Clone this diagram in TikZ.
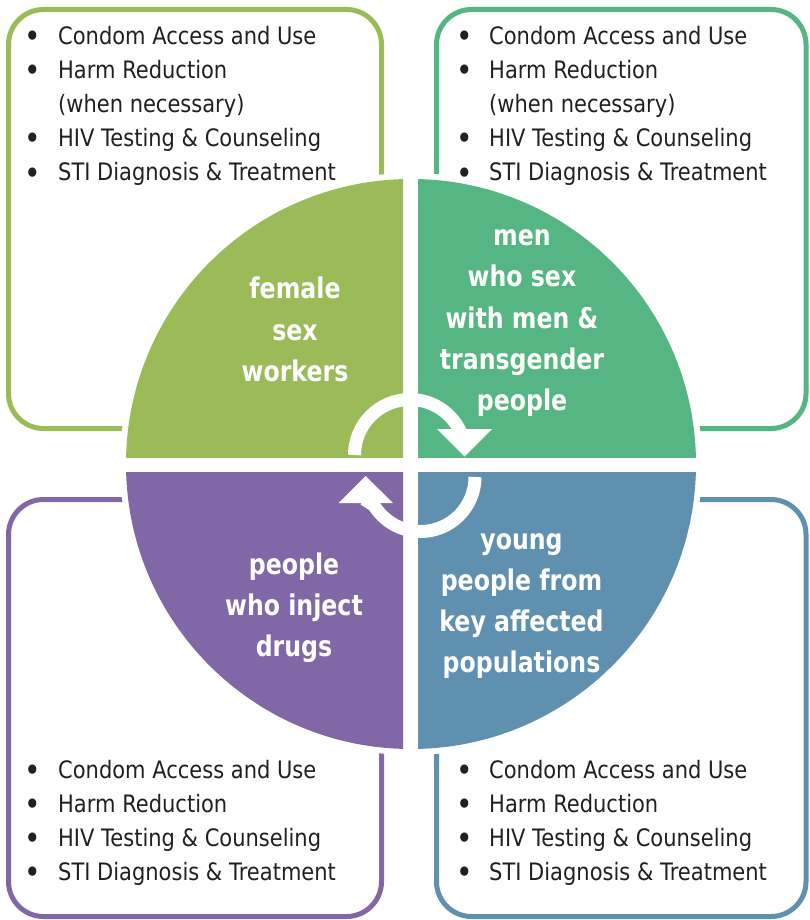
\documentclass[tikz,border=0pt]{standalone}
\usepackage{fontspec}
\setmainfont{DejaVu Sans}
\newfontfamily\listfont{DejaVu Sans}[FakeStretch=0.875]
\newfontfamily\labfont{DejaVu Sans}[FakeStretch=0.83]
\definecolor{cgreen}{HTML}{9BBB59}
\definecolor{cteal}{HTML}{55B683}
\definecolor{cpurple}{HTML}{8267A7}
\definecolor{cblue}{HTML}{6090AF}
\definecolor{ink}{HTML}{231F20}
\begin{document}
\begin{tikzpicture}[x=1pt,y=1pt,
  frame/.style={line width=5pt, rounded corners=35pt},
  itemtext/.style={anchor=base west, inner sep=0pt, text=ink, font=\listfont\fontsize{24}{24}\selectfont},
  bul/.style={anchor=base, inner sep=0pt, text=ink, yshift=-3pt, font=\listfont\fontsize{32}{32}\selectfont},
  lab/.style={anchor=base, inner sep=0pt, text=white, font=\labfont\bfseries\fontsize{28.5}{28.5}\selectfont},
  ring/.style={white, line width=13pt}]
\useasboundingbox (0,0) rectangle (809,-920);
\fill[white] (0,0) rectangle (809,-920);
% frames
\draw[frame,cgreen]  (8.5,-9.5)   rectangle (381.5,-428.5);
\draw[frame,cteal]   (436.5,-9.5) rectangle (806,-428.5);
\draw[frame,cpurple] (8.5,-499.5) rectangle (381.5,-916.5);
\draw[frame,cblue]   (436.5,-499.5) rectangle (806,-916.5);
% circle with white halo
\fill[white] (411,-464) circle (291);
\begin{scope}\clip (0,0) rectangle (403,-457);
  \fill[cgreen] (411,-464) circle (285);\end{scope}
\begin{scope}\clip (418,0) rectangle (809,-457);
  \fill[cteal] (411,-464) circle (285);\end{scope}
\begin{scope}\clip (0,-472) rectangle (403,-920);
  \fill[cpurple] (411,-464) circle (285);\end{scope}
\begin{scope}\clip (418,-472) rectangle (809,-920);
  \fill[cblue] (411,-464) circle (285);\end{scope}
% circular arrows
\draw[ring] (354.5,-455) arc[start angle=180, end angle=25, radius=55.5] -- (464,-436);
\fill[white] (437,-429) -- (492,-429) -- (464.5,-456.5) -- cycle;
\draw[ring] (475,-477) arc[start angle=0, end angle=-155, radius=54.5] -- (366,-508);
\fill[white] (338.5,-503) -- (393,-503) -- (365.5,-476) -- cycle;
% list top-left
\node[bul] (tlb1) at (33,-45) {•};
\node[itemtext] (tl1) at (58,-45) {Condom Access and Use};
\node[bul] (tlb2) at (33,-79) {•};
\node[itemtext] (tl2) at (58,-79) {Harm Reduction};
\node[itemtext] (tl3) at (58,-113) {(when necessary)};
\node[bul] (tlb4) at (33,-147) {•};
\node[itemtext] (tl4) at (58,-147) {HIV Testing \& Counseling};
\node[bul] (tlb5) at (33,-181) {•};
\node[itemtext] (tl5) at (58,-181) {STI Diagnosis \& Treatment};
% list top-right
\node[bul] (trb1) at (465,-45) {•};
\node[itemtext] (tr1) at (489,-45) {Condom Access and Use};
\node[bul] (trb2) at (465,-79) {•};
\node[itemtext] (tr2) at (489,-79) {Harm Reduction};
\node[itemtext] (tr3) at (489,-113) {(when necessary)};
\node[bul] (trb4) at (465,-147) {•};
\node[itemtext] (tr4) at (489,-147) {HIV Testing \& Counseling};
\node[bul] (trb5) at (465,-181) {•};
\node[itemtext] (tr5) at (489,-181) {STI Diagnosis \& Treatment};
% list bottom-left
\node[bul] (blb1) at (33,-778) {•};
\node[itemtext] (bl1) at (58,-778) {Condom Access and Use};
\node[bul] (blb2) at (33,-812) {•};
\node[itemtext] (bl2) at (58,-812) {Harm Reduction};
\node[bul] (blb3) at (33,-846) {•};
\node[itemtext] (bl3) at (58,-846) {HIV Testing \& Counseling};
\node[bul] (blb4) at (33,-880) {•};
\node[itemtext] (bl4) at (58,-880) {STI Diagnosis \& Treatment};
% list bottom-right
\node[bul] (brb1) at (465,-778) {•};
\node[itemtext] (br1) at (489,-778) {Condom Access and Use};
\node[bul] (brb2) at (465,-812) {•};
\node[itemtext] (br2) at (489,-812) {Harm Reduction};
\node[bul] (brb3) at (465,-846) {•};
\node[itemtext] (br3) at (489,-846) {HIV Testing \& Counseling};
\node[bul] (brb4) at (465,-880) {•};
\node[itemtext] (br4) at (489,-880) {STI Diagnosis \& Treatment};
% labels
\node[lab] (f1) at (295,-298) {female};
\node[lab] (f2) at (295,-340) {sex};
\node[lab] (f3) at (295,-381) {workers};
\node[lab] (m1) at (522,-245) {men};
\node[lab] (m2) at (522,-286) {who sex};
\node[lab] (m3) at (522,-328) {with men \&};
\node[lab] (m4) at (522,-369) {transgender};
\node[lab] (m5) at (522,-410) {people};
\node[lab] (p1) at (294,-574) {people};
\node[lab] (p2) at (294,-615) {who inject};
\node[lab] (p3) at (294,-656) {drugs};
\node[lab] (y1) at (521.5,-549) {young};
\node[lab] (y2) at (521.5,-590) {people from};
\node[lab] (y3) at (521.5,-631) {key affected};
\node[lab] (y4) at (521.5,-672) {populations};
\end{tikzpicture}
\end{document}
